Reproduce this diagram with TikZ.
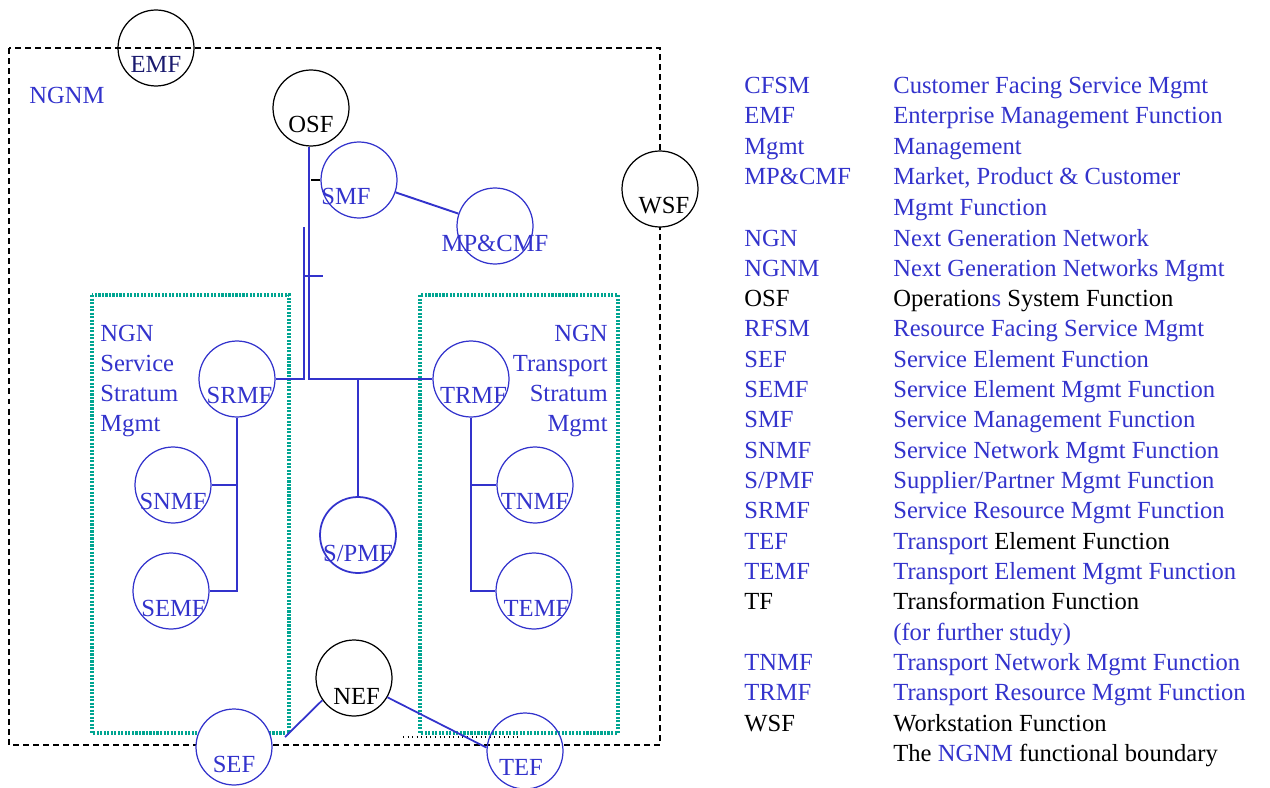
\documentclass[tikz,border=0pt]{standalone}
\usepackage{fontspec}
\setmainfont{Liberation Serif}
\definecolor{fnblue}{RGB}{51,51,204}
\definecolor{fnnavy}{RGB}{26,26,110}
\definecolor{strgreen}{RGB}{0,165,145}
\begin{document}
\begin{tikzpicture}[x=0.02cm,y=-0.02cm,
  fn/.style={circle,draw=fnblue,line width=0.7pt,minimum size=1.52cm,inner sep=0pt},
  fnk/.style={fn,draw=black},
  lbl/.style={inner sep=0pt,anchor=base,font=\fontsize{14}{17}\selectfont,text=fnblue},
  lk/.style={lbl,text=black},
  lg/.style={lbl,anchor=base west},
  lgk/.style={lk,anchor=base west},
  wire/.style={draw=fnblue,line width=0.7pt},
  boundary/.style={line width=1.2pt,dash pattern=on 3.4pt off 2.3pt},
  stratum/.style={draw=strgreen,line width=2pt,dash pattern=on 1.2pt off 0.8pt}]
  \useasboundingbox (0,0) rectangle (1270,787);
  \draw[boundary] (9,48) rectangle (660,745);
  \draw[stratum] (92,295) rectangle (289,733);
  \draw[stratum] (420,295) rectangle (618,733);
  \draw[dotted,line width=0.6pt] (403,737) -- (520,737);
  \node[fnk] (emf) at (156,48) {};
  \node[fnk,fill=white] (osf) at (311,108) {};
  \node[fn] (smf) at (359,180) {};
  \node[fn] (mpcmf) at (495,226) {};
  \node[fnk,fill=white] (wsf) at (660,189) {};
  \node[fn] (srmf) at (237,379) {};
  \node[fn] (snmf) at (173,485) {};
  \node[fn] (semf) at (171,591) {};
  \node[fn] (trmf) at (471,379) {};
  \node[fn] (tnmf) at (535,485) {};
  \node[fn] (temf) at (534,591) {};
  \node[fn,line width=1pt] (spmf) at (358,535) {};
  \node[fnk,fill=white] (nef) at (354,678) {};
  \node[fn,fill=white] (sef) at (234,747) {};
  \node[fn] (tef) at (525,751) {};
  \coordinate (stub) at (304,227);
  \coordinate (tick) at (323,276);
  \coordinate (sefend) at (285,737);
  \draw[wire] (osf.south) ++(-2,0) |- (trmf.west);
  \draw[wire] (stub) |- (srmf.east);
  \draw[wire] (stub |- tick) -- (tick);
  \draw[line width=0.7pt] (smf.west) -- (osf.south |- smf.west);
  \draw[wire,line width=1.1pt] (smf) -- (mpcmf);
  \draw[wire] (spmf.north) -- (spmf.north |- trmf.west);
  \draw[wire] (srmf.south) |- (snmf.east);
  \draw[wire] (srmf.south) |- (semf.east);
  \draw[wire] (trmf.south) |- (tnmf.west);
  \draw[wire] (trmf.south) |- (temf.west);
  \draw[wire,line width=1pt] (nef.215) -- (sefend);
  \draw[wire,line width=1pt] (nef.-30) -- (tef.175);
  \node[lbl,text=fnnavy] (emf-l) at ([yshift=-0.5cm]emf) {EMF};
  \node[lk] (osf-l) at ([yshift=-0.5cm]osf) {OSF};
  \node[lbl] (smf-l) at ([xshift=-0.26cm,yshift=-0.5cm]smf) {SMF};
  \node[lbl] (mpcmf-l) at ([yshift=-0.52cm]mpcmf) {MP\&CMF};
  \node[lk] (wsf-l) at ([xshift=0.08cm,yshift=-0.5cm]wsf) {WSF};
  \node[lbl] (srmf-l) at ([xshift=0.05cm,yshift=-0.5cm]srmf) {SRMF};
  \node[lbl] (snmf-l) at ([yshift=-0.5cm]snmf) {SNMF};
  \node[lbl] (semf-l) at ([xshift=0.05cm,yshift=-0.5cm]semf) {SEMF};
  \node[lbl] (trmf-l) at ([xshift=0.05cm,yshift=-0.5cm]trmf) {TRMF};
  \node[lbl] (tnmf-l) at ([yshift=-0.5cm]tnmf) {TNMF};
  \node[lbl] (temf-l) at ([xshift=0.05cm,yshift=-0.5cm]temf) {TEMF};
  \node[lbl] (spmf-l) at ([yshift=-0.52cm]spmf) {S/PMF};
  \node[lk] (nef-l) at ([xshift=0.05cm,yshift=-0.52cm]nef) {NEF};
  \node[lbl] (sef-l) at ([yshift=-0.5cm]sef) {SEF};
  \node[lbl] (tef-l) at ([xshift=-0.08cm,yshift=-0.48cm]tef) {TEF};
  \node[lg] (ngnm) at (29,104) {NGNM};
  \node[lg] (sst-1) at (100,341) {NGN};
  \node[lg] (sst-2) at (100,371) {Service};
  \node[lg] (sst-3) at (100,401) {Stratum};
  \node[lg] (sst-4) at (100,431) {Mgmt};
  \node[lbl,anchor=base east] (tst-1) at (608,341) {NGN};
  \node[lbl,anchor=base east] (tst-2) at (608,371) {Transport};
  \node[lbl,anchor=base east] (tst-3) at (608,401) {Stratum};
  \node[lbl,anchor=base east] (tst-4) at (608,431) {Mgmt};
  \node[lg] (cfsm) at (744,94) {CFSM};
  \node[lg] (cfsm-d) at (893,94) {Customer Facing Service Mgmt};
  \node[lg] (emf-a) at (744,124) {EMF};
  \node[lg] (emf-d) at (893,124) {Enterprise Management Function};
  \node[lg] (mgmt) at (744,155) {Mgmt};
  \node[lg] (mgmt-d) at (893,155) {Management};
  \node[lg] (mpcmf-a) at (744,185) {MP\&CMF};
  \node[lg] (mpcmf-d) at (893,185) {Market, Product \& Customer};
  \node[lg] (mpcmf-e) at (893,215) {Mgmt Function};
  \node[lg] (ngn) at (744,246) {NGN};
  \node[lg] (ngn-d) at (893,246) {Next Generation Network};
  \node[lg] (ngnm-a) at (744,276) {NGNM};
  \node[lg] (ngnm-d) at (893,276) {Next Generation Networks Mgmt};
  \node[lgk] (osf-a) at (744,306) {OSF};
  \node[lgk] (osf-d) at (893,306) {Operation\textcolor{fnblue}{s} System Function};
  \node[lg] (rfsm) at (744,336) {RFSM};
  \node[lg] (rfsm-d) at (893,336) {Resource Facing Service Mgmt};
  \node[lg] (sef-a) at (744,367) {SEF};
  \node[lg] (sef-d) at (893,367) {Service Element Function};
  \node[lg] (semf-a) at (744,397) {SEMF};
  \node[lg] (semf-d) at (893,397) {Service Element Mgmt Function};
  \node[lg] (smf-a) at (744,427) {SMF};
  \node[lg] (smf-d) at (893,427) {Service Management Function};
  \node[lg] (snmf-a) at (744,458) {SNMF};
  \node[lg] (snmf-d) at (893,458) {Service Network Mgmt Function};
  \node[lg] (spmf-a) at (744,488) {S/PMF};
  \node[lg] (spmf-d) at (893,488) {Supplier/Partner Mgmt Function};
  \node[lg] (srmf-a) at (744,518) {SRMF};
  \node[lg] (srmf-d) at (893,518) {Service Resource Mgmt Function};
  \node[lg] (tef-a) at (744,549) {TEF};
  \node[lgk] (tef-d) at (893,549) {\textcolor{fnblue}{Transport} Element Function};
  \node[lg] (temf-a) at (744,579) {TEMF};
  \node[lg] (temf-d) at (893,579) {Transport Element Mgmt Function};
  \node[lgk] (tf) at (744,609) {TF};
  \node[lgk] (tf-d) at (893,609) {Transformation Function};
  \node[lg] (tf-e) at (893,640) {(for further study)};
  \node[lg] (tnmf-a) at (744,670) {TNMF};
  \node[lg] (tnmf-d) at (893,670) {Transport Network Mgmt Function};
  \node[lg] (trmf-a) at (744,700) {TRMF};
  \node[lg] (trmf-d) at (893,700) {Transport Resource Mgmt Function};
  \node[lgk] (wsf-a) at (744,731) {WSF};
  \node[lgk] (wsf-d) at (893,731) {Workstation Function};
  \node[lgk] (bnd) at (893,761) {The \textcolor{fnblue}{NGNM} functional boundary};
\end{tikzpicture}
\end{document}
